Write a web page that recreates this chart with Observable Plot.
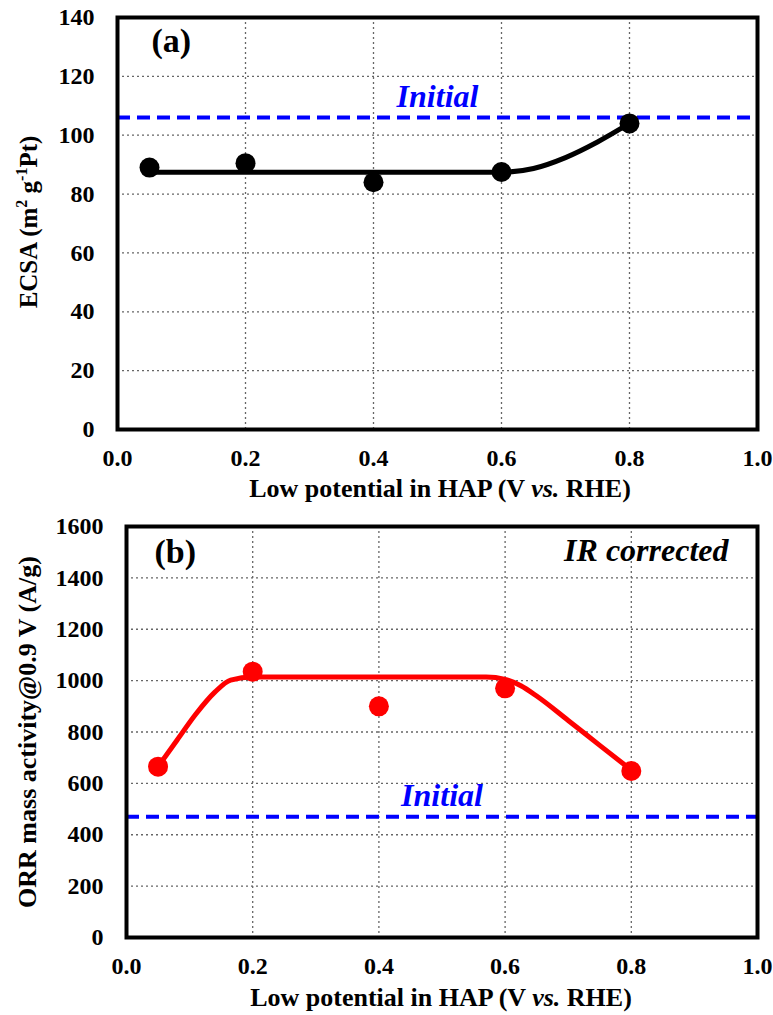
<!DOCTYPE html>
<html>
<head>
<meta charset="utf-8">
<script src="https://cdn.jsdelivr.net/npm/d3@7"></script>
<script src="https://cdn.jsdelivr.net/npm/@observablehq/plot@0.6"></script>
<style>
  html, body { margin: 0; padding: 0; background: #fff; }
  #chart { width: 773px; }
  #chart svg { display: block; }
</style>
</head>
<body>
<div id="chart"></div>
<script>
// ---------- data ----------
const xTicks = [0, 0.2, 0.4, 0.6, 0.8, 1.0];
const potentials = [0.05, 0.2, 0.4, 0.6, 0.8];

// Panel (a): ECSA
const ecsa = [89, 90.5, 84, 87.5, 104];
const ecsaFitX = [0.05, 0.6, 0.65, 0.7, 0.75, 0.8];
const ecsaFitY = [87.4, 87.4, 88.7, 92.4, 97.7, 104];
const ecsaInitial = 106;
const ecsaTicks = [0, 20, 40, 60, 80, 100, 120, 140];

// Panel (b): ORR mass activity
const massActivity = [665, 1035, 900, 970, 648];
const maFitX = [0.05, 0.08, 0.11, 0.14, 0.165, 0.2, 0.4, 0.57, 0.6, 0.625, 0.65, 0.7, 0.75, 0.8];
const maFitY = [665, 768, 870, 955, 1002, 1014, 1014, 1014, 1005, 980, 940, 845, 748, 652];
const maInitial = 470;
const maTicks = [0, 200, 400, 600, 800, 1000, 1200, 1400, 1600];

const xTitle = ["Low potential in HAP (V ", "vs.", " RHE)"];
const initialLabel = "Initial";

// ---------- helpers ----------
const FONT = "'Liberation Serif', 'Times New Roman', serif";
const zip = (xs, ys) => xs.map((x, i) => ({x, y: ys[i]}));

function panel({height, marginTop, marginBottom, marginLeft, yDomain, yTicks, pts, fit, color, initial, label, labelDx, labelDy, cornerText}) {
  const marks = [
    Plot.gridX(xTicks, {stroke: "#666", strokeOpacity: 1, strokeWidth: 1.3, strokeDasharray: "2,3"}),
    Plot.gridY(yTicks, {stroke: "#666", strokeOpacity: 1, strokeWidth: 1.3, strokeDasharray: "2,3"}),
    Plot.ruleY([initial], {stroke: "#0000ff", strokeWidth: 4, strokeDasharray: "13,7"}),
    Plot.line(fit, {x: "x", y: "y", stroke: color, strokeWidth: 5, curve: "monotone-x"}),
    Plot.dot(pts, {x: "x", y: "y", r: 10, fill: color, stroke: null}),
    Plot.frame({stroke: "#000", strokeWidth: 4}),
    Plot.axisX(xTicks, {tickSize: 0, tickPadding: 19, tickFormat: d3.format(".1f"), label: null, fontSize: 24}),
    Plot.axisY(yTicks, {tickSize: 0, tickPadding: 23, tickFormat: d3.format("d"), label: null, fontSize: 24}),
    Plot.text([initialLabel], {x: [0.5], y: [initial], text: d => d, dy: -21, fill: "#0000ff", fontSize: 32, fontStyle: "italic", fontWeight: "bold"}),
    Plot.text([label], {frameAnchor: "top-left", dx: labelDx, dy: labelDy, text: d => d, fontSize: 34, fontWeight: "bold", lineAnchor: "top"})
  ];
  if (cornerText) {
    marks.push(Plot.text([cornerText], {frameAnchor: "top-right", dx: -29, dy: 12, text: d => d, fontSize: 32, fontWeight: "bold", fontStyle: "italic", lineAnchor: "top"}));
  }
  return Plot.plot({
    width: 773,
    height,
    marginTop,
    marginBottom,
    marginLeft,
    marginRight: 16,
    style: {fontFamily: FONT, fontWeight: "bold", fontSize: "24px", color: "#000", background: "#fff", overflow: "visible"},
    x: {domain: [0, 1]},
    y: {domain: yDomain},
    marks
  });
}

function addTitles(svg, {xCenter, xBaseline, yCenterX, yCenterY, yParts, ySize}) {
  const s = d3.select(svg);
  const t = s.append("text")
    .attr("x", xCenter).attr("y", xBaseline)
    .attr("text-anchor", "middle")
    .style("font-family", FONT).style("font-weight", "bold").style("font-size", "26px").attr("fill", "#000");
  t.append("tspan").text(xTitle[0]);
  t.append("tspan").style("font-style", "italic").text(xTitle[1]);
  t.append("tspan").text(xTitle[2]);

  const yt = s.append("text")
    .attr("transform", `translate(${yCenterX},${yCenterY}) rotate(-90)`)
    .attr("text-anchor", "middle")
    .attr("dy", "0.35em")
    .style("font-family", FONT).style("font-weight", "bold").style("font-size", ySize + "px").attr("fill", "#000");
  let shift = 0;
  for (const p of yParts) {
    const ts = yt.append("tspan").text(p.t);
    const target = p.sup ? -10 : 0;
    if (target !== shift) { ts.attr("dy", target - shift); shift = target; }
    if (p.sup) ts.style("font-size", "16px");
  }
}

const root = document.getElementById("chart");

// Panel (a)
const a = panel({
  height: 510, marginTop: 17, marginBottom: 81, marginLeft: 117,
  yDomain: [0, 140], yTicks: ecsaTicks,
  pts: zip(potentials, ecsa), fit: zip(ecsaFitX, ecsaFitY),
  color: "#000", initial: ecsaInitial,
  label: "(a)", labelDx: 34, labelDy: 10
});
addTitles(a, {
  xCenter: 440, xBaseline: 497, yCenterX: 28, yCenterY: 222, ySize: 25,
  yParts: [{t: "ECSA (m"}, {t: "2", sup: true}, {t: " g"}, {t: "-1", sup: true}, {t: "Pt)"}]
});
root.appendChild(a);

// Panel (b)
const b = panel({
  height: 505, marginTop: 16, marginBottom: 78, marginLeft: 126,
  yDomain: [0, 1600], yTicks: maTicks,
  pts: zip(potentials, massActivity), fit: zip(maFitX, maFitY),
  color: "#ff0000", initial: maInitial,
  label: "(b)", labelDx: 28, labelDy: 12, cornerText: "IR corrected"
});
addTitles(b, {
  xCenter: 441, xBaseline: 496, yCenterX: 27, yCenterY: 222, ySize: 26,
  yParts: [{t: "ORR mass activity@0.9 V (A/g)"}]
});
root.appendChild(b);
</script>
</body>
</html>
